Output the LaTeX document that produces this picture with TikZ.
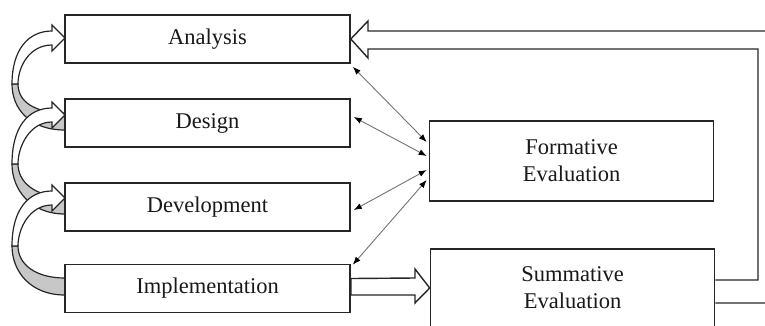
\documentclass[tikz,border=0pt]{standalone}
\usepackage{fontspec}
\setmainfont{Liberation Serif}
\usetikzlibrary{arrows.meta}
\begin{document}
\begin{tikzpicture}[x=1pt,y=-1pt]
      % Define styles for nodes
      \tikzstyle{phase} = [draw=black!85, rectangle, line width=1.6pt, fill=white,
      minimum width=285pt, minimum height=48pt, inner sep=0pt,
      text=black!90, font=\fontsize{22.5}{27}\selectfont]
      \tikzstyle{evalbox} = [phase, minimum width=284pt, align=center]
      \tikzstyle{link} = [black!55, line width=0.9pt,
      {Latex[length=8pt,width=6pt,black]}-{Latex[length=8pt,width=6pt,black]}]
      \tikzstyle{hollow} = [draw=black!85, line width=1.4pt, fill=white, line join=miter]
      \tikzstyle{band} = [draw=black!85, line width=1.2pt]

      \useasboundingbox (0,0) rectangle (765,325);
      \clip (0,0) rectangle (765,325);

      % Curved arrows on the left (lower part shaded, upper part with head)
      \filldraw[band, fill=black!22] (12,84) .. controls (12,109) and (30,130) .. (65,130)
        -- (65,113) .. controls (35,113) and (18,102) .. (18,84) -- cycle;
      \filldraw[band, fill=white] (12,84) .. controls (12,50) and (28,31) .. (52,31)
        -- (52,25) -- (65,38) -- (52,51) -- (52,45) .. controls (30,45) and (18,66) .. (18,84) -- cycle;

      \filldraw[band, fill=black!22] (12,164) .. controls (12,189) and (30,214) .. (65,214)
        -- (65,197) .. controls (35,197) and (18,182) .. (18,164) -- cycle;
      \filldraw[band, fill=white] (12,164) .. controls (12,127) and (28,108) .. (52,108)
        -- (52,102) -- (65,115) -- (52,128) -- (52,122) .. controls (30,122) and (18,146) .. (18,164) -- cycle;

      \filldraw[band, fill=black!22] (12,246) .. controls (12,271) and (30,295) .. (65,295)
        -- (65,278) .. controls (35,278) and (18,264) .. (18,246) -- cycle;
      \filldraw[band, fill=white] (12,246) .. controls (12,210) and (28,191) .. (52,191)
        -- (52,185) -- (65,198) -- (52,211) -- (52,205) .. controls (30,205) and (18,228) .. (18,246) -- cycle;

      % Phase boxes
      \node[phase] (ana) at (207.5,39) {Analysis};
      \node[phase] (des) at (207.5,123) {Design};
      \node[phase] (dev) at (207.5,207) {Development};
      \node[phase] (imp) at (207.5,288.5) {Implementation};

      % Evaluation boxes
      \node[evalbox, minimum height=80pt] (form) at (571.5,161) {Formative\\Evaluation};
      \node[evalbox, minimum height=78pt] (summ) at (572.5,288) {Summative\\Evaluation};

      % Two-way links to formative evaluation
      \draw[link] ([xshift=2pt,yshift=-3pt]ana.south east) -- ([xshift=-2pt,yshift=19pt]form.west);
      \draw[link] ([xshift=3pt,yshift=6pt]des.east) -- ([xshift=-2pt,yshift=5pt]form.west);
      \draw[link] ([xshift=3pt,yshift=-3pt]dev.east) -- ([xshift=-2pt,yshift=-9pt]form.west);
      \draw[link] ([xshift=2pt,yshift=-1pt]imp.north east) -- ([xshift=-2pt,yshift=-19pt]form.west);

      % Implementation to summative evaluation
      \filldraw[hollow] ([yshift=10pt]imp.east) -- (415,278) -- (415,269) -- (summ.west)
        -- (415,303) -- (415,295) -- ([yshift=-6.5pt]imp.east) -- cycle;

      % Feedback from summative evaluation to analysis
      \draw[hollow, fill=none] ([yshift=8pt]summ.east) -- (758,280) -- (758,49) -- (368,49)
        -- (368,58) -- (ana.east) -- (368,21) -- (368,31) -- (790,31) -- (790,303)
        -- ([yshift=-15pt]summ.east);
    \end{tikzpicture}
\end{document}
